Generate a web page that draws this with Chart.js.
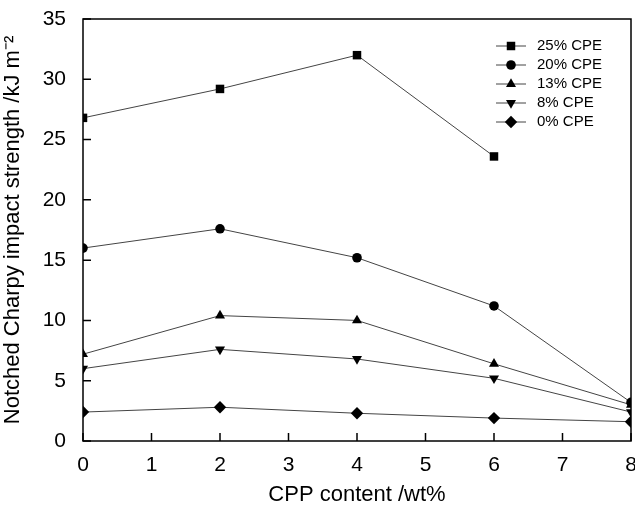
<!DOCTYPE html>
<html>
<head>
<meta charset="utf-8">
<script src="https://cdn.jsdelivr.net/npm/chart.js@4"></script>
<style>
  html, body { margin: 0; padding: 0; background: #fff; }
  #box { width: 635px; height: 508px; }
</style>
</head>
<body>
<div id="box"><canvas id="impactChart"></canvas></div>
<script>
const cppContent = [0, 2, 4, 6, 8];
const seriesNames = ["25% CPE", "20% CPE", "13% CPE", "8% CPE", "0% CPE"];
const cpe25 = [26.8, 29.2, 32.0, 23.6, null];
const cpe20 = [16.0, 17.6, 15.2, 11.2, 3.2];
const cpe13 = [7.2, 10.4, 10.0, 6.4, 3.0];
const cpe8 = [6.0, 7.6, 6.8, 5.2, 2.4];
const cpe0 = [2.4, 2.8, 2.3, 1.9, 1.6];
const yTicks = [0, 5, 10, 15, 20, 25, 30, 35];
const xTicks = [0, 1, 2, 3, 4, 5, 6, 7, 8];

const allSeries = [cpe25, cpe20, cpe13, cpe8, cpe0];
const markers = [
  { style: 'rect', radius: 6, rotation: 0 },
  { style: 'circle', radius: 4.8, rotation: 0 },
  { style: 'triangle', radius: 5.8, rotation: 0 },
  { style: 'triangle', radius: 5.8, rotation: 180 },
  { style: 'rectRot', radius: 6.2, rotation: 0 }
];

const fontFam = '"Liberation Sans", Arial, sans-serif';

const datasets = allSeries.map((vals, i) => ({
  label: seriesNames[i],
  data: cppContent.map((x, j) => ({ x: x, y: vals[j] })).filter(p => p.y !== null),
  showLine: true,
  borderColor: '#444',
  borderWidth: 1,
  backgroundColor: '#000',
  pointBackgroundColor: '#000',
  pointBorderColor: '#000',
  pointBorderWidth: 0,
  pointStyle: markers[i].style,
  pointRadius: markers[i].radius,
  pointRotation: markers[i].rotation,
  clip: 0
}));

// box frame, inward ticks and legend inside the plot
const frameAndLegend = {
  id: 'frameAndLegend',
  afterDraw(chart) {
    const ctx = chart.ctx;
    const a = chart.chartArea;
    const xs = chart.scales.x;
    const ys = chart.scales.y;
    ctx.save();
    ctx.strokeStyle = '#000';
    ctx.lineWidth = 1.5;
    ctx.strokeRect(a.left, a.top, a.right - a.left, a.bottom - a.top);

    ctx.beginPath();
    yTicks.forEach(v => {
      const y = ys.getPixelForValue(v);
      ctx.moveTo(a.left, y);
      ctx.lineTo(a.left + 8, y);
    });
    xTicks.forEach(v => {
      const x = xs.getPixelForValue(v);
      ctx.moveTo(x, a.bottom);
      ctx.lineTo(x, a.bottom - 8);
    });
    ctx.stroke();

    // legend
    const rows = [46, 65, 84, 103, 122];
    ctx.font = '15px ' + fontFam;
    ctx.textBaseline = 'middle';
    chart.data.datasets.forEach((ds, i) => {
      const y = rows[i];
      ctx.strokeStyle = '#444';
      ctx.lineWidth = 1;
      ctx.beginPath();
      ctx.moveTo(496, y);
      ctx.lineTo(526, y);
      ctx.stroke();
      ctx.fillStyle = '#000';
      ctx.strokeStyle = '#000';
      Chart.helpers.drawPoint(ctx, {
        pointStyle: ds.pointStyle,
        radius: ds.pointRadius,
        rotation: ds.pointRotation,
        borderWidth: 0
      }, 511, y);
      ctx.fillStyle = '#000';
      ctx.fillText(ds.label, 537, y);
    });
    ctx.restore();
  }
};

new Chart(document.getElementById('impactChart'), {
  type: 'scatter',
  data: { datasets: datasets },
  options: {
    responsive: true,
    maintainAspectRatio: false,
    animation: false,
    layout: { autoPadding: false, padding: { top: 19, right: 4, left: 0, bottom: 0 } },
    plugins: {
      legend: { display: false },
      tooltip: { enabled: false }
    },
    scales: {
      x: {
        type: 'linear',
        min: 0,
        max: 8,
        grid: { display: false },
        border: { display: false },
        ticks: {
          stepSize: 1,
          color: '#000',
          padding: 4,
          font: { family: fontFam, size: 21 }
        },
        title: {
          display: true,
          text: 'CPP content /wt%',
          color: '#000',
          padding: { top: 10, bottom: 0 },
          font: { family: fontFam, size: 22 }
        },
        afterFit(scale) {
          scale.height = 67;
          scale.paddingLeft = 0;
          scale.paddingRight = 0;
        }
      },
      y: {
        min: 0,
        max: 35,
        grid: { display: false },
        border: { display: false },
        ticks: {
          stepSize: 5,
          color: '#000',
          padding: 9,
          font: { family: fontFam, size: 21 }
        },
        title: {
          display: true,
          text: 'Notched Charpy impact strength /kJ m\u207B\u00B2',
          color: '#000',
          padding: { top: 0, bottom: 2 },
          font: { family: fontFam, size: 22 }
        },
        afterFit(scale) {
          scale.width = 83;
          scale.paddingTop = 0;
          scale.paddingBottom = 0;
        }
      }
    }
  },
  plugins: [frameAndLegend]
});
</script>
</body>
</html>
